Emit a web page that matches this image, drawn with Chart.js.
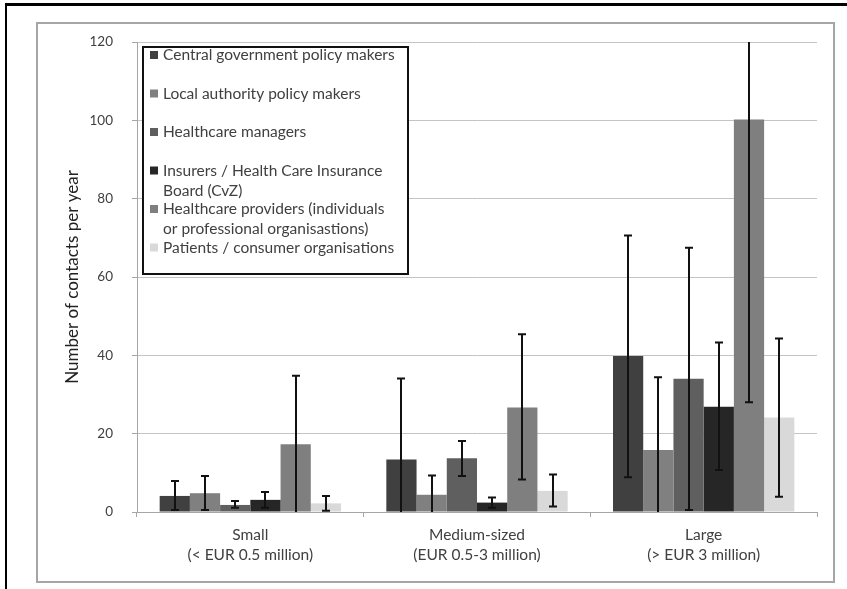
<!DOCTYPE html>
<html>
<head>
<meta charset="utf-8">
<script src="https://cdn.jsdelivr.net/npm/chart.js@4/dist/chart.umd.min.js"></script>
<style>
  body { margin: 0; background: #fff; }
  canvas { display: block; }
</style>
</head>
<body>
<canvas id="contactsChart" width="847" height="589"></canvas>
<script>
const categories = [
    ['Small', '(< EUR 0.5 million)'],
    ['Medium-sized', '(EUR 0.5-3 million)'],
    ['Large', '(> EUR 3 million)']
];
const yTicks = [0, 20, 40, 60, 80, 100, 120];

const seriesNames = [
    'Central government policy makers',
    'Local authority policy makers',
    'Healthcare managers',
    ['Insurers / Health Care Insurance', 'Board (CvZ)'],
    ['Healthcare providers (individuals', 'or professional organisastions)'],
    'Patients / consumer organisations'
];

// mean values
const centralGov = [4.1, 13.4, 39.8];
const localAuth = [4.8, 4.4, 15.8];
const managers = [1.8, 13.7, 34.0];
const insurers = [3.1, 2.4, 26.9];
const providers = [17.3, 26.7, 100.2];
const patients = [2.2, 5.4, 24.1];

// error bar ends (low / high)
const centralGovLow = [0.5, -10, 8.9];
const centralGovHigh = [7.9, 34.1, 70.6];
const localAuthLow = [0.5, -1, -3];
const localAuthHigh = [9.2, 9.3, 34.4];
const managersLow = [1.1, 9.2, 0.5];
const managersHigh = [2.8, 18.1, 67.5];
const insurersLow = [1.1, 1.1, 10.7];
const insurersHigh = [5.1, 3.7, 43.3];
const providersLow = [-2, 8.3, 28.0];
const providersHigh = [34.8, 45.4, 172];
const patientsLow = [0.3, 1.4, 3.9];
const patientsHigh = [4.1, 9.6, 44.3];

const colors = ['#404040', '#808080', '#5f5f5f', '#262626', '#7f7f7f', '#d9d9d9'];
const values = [centralGov, localAuth, managers, insurers, providers, patients];
const lows = [centralGovLow, localAuthLow, managersLow, insurersLow, providersLow, patientsLow];
const highs = [centralGovHigh, localAuthHigh, managersHigh, insurersHigh, providersHigh, patientsHigh];

const FONT = 'Lato, "Liberation Sans", sans-serif';

const errorBars = {
    id: 'errorBars',
    afterDatasetsDraw(chart) {
        const {ctx, chartArea, scales: {y}} = chart;
        ctx.save();
        ctx.beginPath();
        ctx.rect(chartArea.left, chartArea.top, chartArea.right - chartArea.left, chartArea.bottom - chartArea.top);
        ctx.clip();
        ctx.strokeStyle = '#111';
        ctx.lineWidth = 2;
        chart.data.datasets.forEach((ds, i) => {
            chart.getDatasetMeta(i).data.forEach((bar, j) => {
                const x = Math.round(bar.x);
                const yLo = y.getPixelForValue(ds.low[j]);
                const yHi = y.getPixelForValue(ds.high[j]);
                ctx.beginPath();
                ctx.moveTo(x, yLo);
                ctx.lineTo(x, yHi);
                ctx.moveTo(x - 4, yLo);
                ctx.lineTo(x + 4, yLo);
                ctx.moveTo(x - 4, yHi);
                ctx.lineTo(x + 4, yHi);
                ctx.stroke();
            });
        });
        ctx.restore();
    }
};

const boxLegend = {
    id: 'boxLegend',
    afterDraw(chart) {
        const {ctx, chartArea} = chart;
        const left = chartArea.left + 6;
        const top = chartArea.top + 5;
        ctx.save();
        ctx.fillStyle = '#fff';
        ctx.fillRect(left, top, 265, 227);
        ctx.strokeStyle = '#111';
        ctx.lineWidth = 2;
        ctx.strokeRect(left, top, 265, 227);
        ctx.font = '15.5px ' + FONT;
        ctx.textBaseline = 'middle';
        chart.data.datasets.forEach((ds, i) => {
            const yc = top + 8 + i * 38.5;
            ctx.fillStyle = ds.backgroundColor;
            ctx.fillRect(left + 7, yc - 4, 8, 8);
            ctx.fillStyle = '#404040';
            const lines = Array.isArray(ds.label) ? ds.label : [ds.label];
            lines.forEach((line, k) => ctx.fillText(line, left + 20, yc + k * 20));
        });
        ctx.restore();
    }
};

const frames = {
    id: 'frames',
    beforeDraw(chart) {
        const ctx = chart.ctx;
        ctx.save();
        ctx.fillStyle = '#fff';
        ctx.fillRect(0, 0, chart.width, chart.height);
        ctx.fillStyle = '#000';
        ctx.fillRect(5, 3, chart.width - 5, 3);
        ctx.fillRect(5, 3, 2, chart.height - 3);
        ctx.strokeStyle = '#a6a6a6';
        ctx.lineWidth = 2;
        ctx.strokeRect(37, 23, 797, 559);
        ctx.restore();
    }
};

const ctx = document.getElementById('contactsChart').getContext('2d');
const chart = new Chart(ctx, {
    type: 'bar',
    data: {
        labels: categories,
        datasets: values.map((v, i) => ({
            label: seriesNames[i],
            data: v,
            low: lows[i],
            high: highs[i],
            backgroundColor: colors[i],
            borderWidth: 0,
            categoryPercentage: 0.8,
            barPercentage: 1.0
        }))
    },
    options: {
        responsive: false,
        animation: false,
        layout: {padding: {left: 50, right: 30, top: 42, bottom: 17}},
        plugins: {
            legend: {display: false},
            tooltip: {enabled: false}
        },
        scales: {
            x: {
                afterFit: scale => { scale.height = 60; },
                grid: {display: true, drawOnChartArea: false, color: '#a6a6a6', tickLength: 5},
                border: {color: '#a6a6a6'},
                ticks: {color: '#404040', font: {family: FONT, size: 15.5, lineHeight: 1.3}, padding: 8}
            },
            y: {
                min: 0, max: 120,
                afterFit: scale => { scale.width = 87; },
                afterBuildTicks: scale => { scale.ticks = yTicks.map(v => ({value: v})); },
                grid: {color: '#c4c4c4', tickLength: 5, tickColor: '#a6a6a6'},
                border: {color: '#a6a6a6'},
                title: {display: true, text: 'Number of contacts per year', color: '#222', font: {family: FONT, size: 17}, padding: {top: 12, bottom: 0}},
                ticks: {color: '#404040', font: {family: FONT, size: 13.5}, padding: 19}
            }
        }
    },
    plugins: [frames, errorBars, boxLegend]
});
</script>
</body>
</html>
